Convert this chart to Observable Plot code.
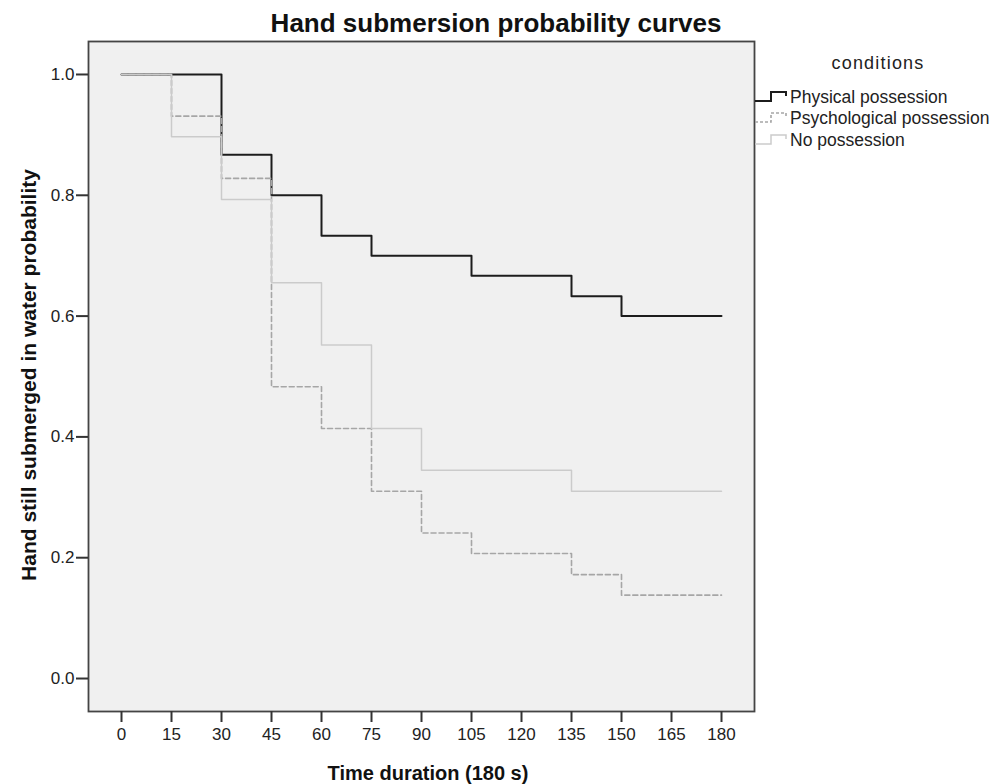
<!DOCTYPE html>
<html>
<head>
<meta charset="utf-8">
<script src="https://cdn.jsdelivr.net/npm/d3@7"></script>
<script src="https://cdn.jsdelivr.net/npm/@observablehq/plot@0.6"></script>
<style>
  html, body { margin: 0; padding: 0; background: #ffffff; }
  #chart svg { display: block; }
</style>
</head>
<body>
<div id="chart"></div>
<script>
// ---- data ----
const xTicks = [0, 15, 30, 45, 60, 75, 90, 105, 120, 135, 150, 165, 180];
const yTicks = [0.0, 0.2, 0.4, 0.6, 0.8, 1.0];

const physicalTime  = [0, 30, 45, 60, 75, 105, 135, 150, 180];
const physicalProb  = [1.0, 0.867, 0.800, 0.733, 0.700, 0.667, 0.633, 0.600, 0.600];

const psychTime     = [0, 15, 30, 45, 60, 75, 90, 105, 135, 150, 180];
const psychProb     = [1.0, 0.931, 0.828, 0.483, 0.414, 0.310, 0.241, 0.207, 0.172, 0.138, 0.138];

const noneTime      = [0, 15, 30, 45, 60, 75, 90, 135, 180];
const noneProb      = [1.0, 0.897, 0.793, 0.655, 0.552, 0.414, 0.345, 0.310, 0.310];

const seriesNames = ["Physical possession", "Psychological possession", "No possession"];

const toRows = (t, p) => t.map((d, i) => ({time: d, prob: p[i]}));
const physical = toRows(physicalTime, physicalProb);
const psych = toRows(psychTime, psychProb);
const none = toRows(noneTime, noneProb);

const font = "'Liberation Sans', Arial, sans-serif";

const chart = Plot.plot({
  width: 998,
  height: 784,
  marginLeft: 88,
  marginRight: 244,
  marginTop: 41,
  marginBottom: 73,
  style: {fontFamily: font, fontSize: "17px", background: "#ffffff", color: "#222"},
  x: {domain: [-9.9, 189.9]},
  y: {domain: [-0.0546, 1.0546]},
  marks: [
    Plot.frame({fill: "#f0f0f0", stroke: "none"}),
    Plot.line(physical, {x: "time", y: "prob", curve: "step-after", stroke: "#1c1c1c", strokeWidth: 2}),
    Plot.line(psych, {x: "time", y: "prob", curve: "step-after", stroke: "#a6a6a6", strokeWidth: 1.6, strokeDasharray: "5,3"}),
    Plot.line(none, {x: "time", y: "prob", curve: "step-after", stroke: "#cbcbcb", strokeWidth: 1.5}),
    Plot.frame({stroke: "#444", strokeWidth: 1.8}),
    Plot.axisX({ticks: xTicks, tickSize: 11, tickPadding: 5, label: null, fontSize: 17, stroke: "#333", strokeWidth: 2}),
    Plot.axisY({ticks: yTicks, tickSize: 12, tickPadding: 2, label: null, fontSize: 17, tickFormat: d3.format(".1f"), stroke: "#333", strokeWidth: 2})
  ]
});

document.getElementById("chart").appendChild(chart);

// ---- annotations: titles and legend ----
const svg = d3.select(chart);
svg.append("text")
  .attr("x", 496).attr("y", 32)
  .attr("text-anchor", "middle")
  .attr("font-family", font).attr("font-weight", "bold").attr("font-size", 26)
  .attr("fill", "#111")
  .text("Hand submersion probability curves");

svg.append("text")
  .attr("x", 428).attr("y", 780)
  .attr("text-anchor", "middle")
  .attr("font-family", font).attr("font-weight", "bold").attr("font-size", 20)
  .attr("fill", "#111")
  .text("Time duration (180 s)");

svg.append("text")
  .attr("transform", "translate(36,375) rotate(-90)")
  .attr("text-anchor", "middle")
  .attr("font-family", font).attr("font-weight", "bold").attr("font-size", 21)
  .attr("fill", "#111")
  .text("Hand still submerged in water probability");

svg.append("text")
  .attr("x", 878).attr("y", 69)
  .attr("text-anchor", "middle")
  .attr("font-family", font).attr("font-size", 18).attr("letter-spacing", 1.2)
  .attr("fill", "#222")
  .text("conditions");

const legendStyles = [
  {stroke: "#1c1c1c", width: 2, dash: null},
  {stroke: "#a6a6a6", width: 1.6, dash: "3,2"},
  {stroke: "#cbcbcb", width: 1.5, dash: null}
];
const legendY = [97, 118, 140];
seriesNames.forEach((name, i) => {
  const y = legendY[i];
  const p = svg.append("path")
    .attr("d", `M755,${y + 4}H771V${y - 5}H786V${y - 1}`)
    .attr("fill", "none")
    .attr("stroke", legendStyles[i].stroke)
    .attr("stroke-width", legendStyles[i].width);
  if (legendStyles[i].dash) p.attr("stroke-dasharray", legendStyles[i].dash);
  svg.append("text")
    .attr("x", 790).attr("y", y + 6)
    .attr("text-anchor", "start")
    .attr("font-family", font).attr("font-size", 17.5)
    .attr("fill", "#222")
    .text(name);
});
</script>
</body>
</html>
